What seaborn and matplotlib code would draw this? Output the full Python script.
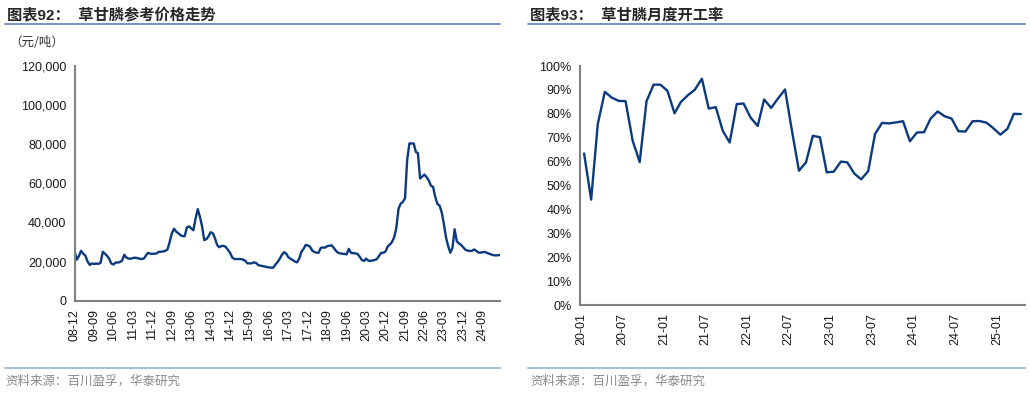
import pandas as pd
import numpy as np
import matplotlib
matplotlib.use("Agg")
import matplotlib.pyplot as plt
import matplotlib.ticker as mticker
from matplotlib.lines import Line2D
import seaborn as sns

# 草甘膦参考价格 (元/吨), 月度, 2008-12 起
price_start = "2008-12-01"
price_values = [
    25000, 21000, 23000, 25500, 24000, 23000, 20000, 18300, 19000, 18800,
    19000, 18800, 19400, 25000, 24000, 23000, 21500, 19000, 18500, 19500,
    19500, 19800, 20500, 23500, 22000, 21500, 21500, 21800, 22000, 21800,
    21500, 21300, 21500, 23000, 24500, 24000, 24000, 24000, 24200, 25000,
    25000, 25200, 25500, 26200, 30000, 34500, 36800, 35300, 34500, 33500,
    33000, 33000, 37500, 38000, 37000, 36000, 42000, 46800, 43000, 38000,
    31000, 31500, 33000, 35000, 34500, 32000, 28500, 27300, 28000, 28000,
    27500, 26000, 24500, 22000, 21300, 21300, 21300, 21300, 21000, 20500,
    19100, 19100, 19100, 19600, 19300, 18200, 17900, 17700, 17500, 17200,
    17000, 16900, 16900, 18500, 19800, 21500, 23500, 24800, 24000, 22200,
    21500, 20800, 20000, 19600, 21500, 25000, 26500, 28500, 28300, 27600,
    25600, 25000, 24500, 24500, 27000, 27200, 27100, 27900, 28100, 28300,
    27000, 25500, 24500, 24200, 24000, 23900, 23700, 26500, 24500, 24300,
    24200, 23900, 22500, 20800, 20300, 21500, 20500, 20300, 20600, 20800,
    21300, 23000, 24500, 24500, 25200, 27800, 28800, 30000, 32500, 37200,
    47000, 49600, 50500, 52500, 72000, 80400, 80400, 80400, 76000, 75500,
    62500, 63500, 64500, 63200, 61500, 58800, 58200, 53000, 49500, 48600,
    45000, 39500, 32500, 28000, 24500, 27000, 36500, 30300, 29300, 28500,
    27300, 26000, 25600, 25400, 25500, 26200, 25500, 24600, 24600, 24800,
    24900, 24400, 24000, 23600, 23200, 23200, 23200, 23400,
]
price_ticks = ["08-12", "09-09", "10-06", "11-03", "11-12", "12-09", "13-06",
               "14-03", "14-12", "15-09", "16-06", "17-03", "17-12", "18-09",
               "19-06", "20-03", "20-12", "21-09", "22-06", "23-03", "23-12",
               "24-09"]

# 草甘膦月度开工率, 2020-01 起
rate_start = "2020-01-01"
rate_values = [
    63.4, 44.1, 75.7, 89.2, 86.8, 85.4, 85.3, 68.8, 59.8, 85.3, 92.2, 92.2,
    89.6, 80.2, 85.0, 87.8, 90.1, 94.7, 82.2, 82.8, 72.8, 68.0, 84.1, 84.3,
    78.4, 74.9, 86.0, 82.5, 86.4, 90.2, 73.1, 56.2, 59.7, 70.8, 70.2, 55.5,
    55.8, 60.0, 59.7, 55.0, 52.6, 56.0, 71.6, 76.2, 76.0, 76.4, 76.9, 68.5,
    72.2, 72.3, 78.0, 81.0, 79.0, 78.0, 72.7, 72.6, 76.9, 77.0, 76.3, 74.0,
    71.3, 73.7, 80.0, 79.9,
]
rate_ticks = ["20-01", "20-07", "21-01", "21-07", "22-01", "22-07", "23-01",
              "23-07", "24-01", "24-07", "25-01"]

sns.set_style("white")
plt.rcParams["font.family"] = ["Liberation Sans", "Noto Sans CJK SC", "DejaVu Sans"]
cjk = ["Noto Sans CJK SC", "DejaVu Sans"]

line_color = "#0b3a7e"
axis_color = "#808080"

df_price = pd.DataFrame({
    "date": pd.date_range(price_start, periods=len(price_values), freq="MS"),
    "price": price_values,
})
df_rate = pd.DataFrame({
    "date": pd.date_range(rate_start, periods=len(rate_values), freq="MS") + pd.Timedelta(days=14),
    "rate": np.array(rate_values) / 100,
})

fig = plt.figure(figsize=(10.3, 3.93), dpi=100)
ax1 = fig.add_axes([0.0725, 0.2349, 0.4129, 0.5971])
ax2 = fig.add_axes([0.5631, 0.2239, 0.4320, 0.6081])

sns.lineplot(data=df_price, x="date", y="price", ax=ax1, color=line_color, linewidth=1.7)
sns.lineplot(data=df_rate, x="date", y="rate", ax=ax2, color=line_color, linewidth=1.7)

# 左图坐标轴
ax1.set_ylim(0, 120000)
ax1.set_yticks(range(0, 120001, 20000))
ax1.yaxis.set_major_formatter(mticker.FuncFormatter(lambda v, p: f"{int(v):,}"))
ax1.set_xlim(df_price["date"].iloc[0], df_price["date"].iloc[-1])
ax1.set_xticks(pd.to_datetime(["20" + t + "-01" for t in price_ticks]))
ax1.set_xticklabels(price_ticks, rotation=90)

# 右图坐标轴
ax2.set_ylim(0, 1)
ax2.set_yticks(np.arange(0, 1.01, 0.1))
ax2.yaxis.set_major_formatter(mticker.PercentFormatter(1.0, decimals=0))
ax2.set_xlim(pd.Timestamp("2019-12-28"), pd.Timestamp("2025-05-03"))
ax2.set_xticks(pd.to_datetime(["20" + t + "-01" for t in rate_ticks]))
ax2.set_xticklabels(rate_ticks, rotation=90)

for ax in (ax1, ax2):
    ax.set_xlabel("")
    ax.set_ylabel("")
    sns.despine(ax=ax)
    for s in ("left", "bottom"):
        ax.spines[s].set_color(axis_color)
        ax.spines[s].set_linewidth(1.5)
    ax.tick_params(axis="both", direction="out", length=4, width=1,
                   color=axis_color, labelsize=9, labelcolor="#1a1a1a", pad=2)

# 标题、分隔线、来源
fig.text(0.007, 0.963, "图表92：  草甘膦参考价格走势", fontsize=11, fontweight="bold",
         va="center", ha="left")
fig.text(0.5145, 0.963, "图表93：  草甘膦月度开工率", fontsize=11, fontweight="bold",
         va="center", ha="left")
fig.text(0.009, 0.893, "（元/吨）", fontsize=9, va="center", ha="left", family=cjk,
         color="#333333")

for x0, x1 in ((0.005, 0.4854), (0.5126, 0.9951)):
    fig.add_artist(Line2D([x0, x1], [0.939, 0.939], color="#5a84b8", linewidth=1.2))
    fig.add_artist(Line2D([x0, x1], [0.064, 0.064], color="#a9bfd8", linewidth=1.5))

fig.text(0.005, 0.030, "资料来源：百川盈孚，华泰研究", fontsize=9, color="#8a8a8a",
         va="center", ha="left", family=cjk)
fig.text(0.5145, 0.030, "资料来源：百川盈孚，华泰研究", fontsize=9, color="#8a8a8a",
         va="center", ha="left", family=cjk)

fig.savefig("out.png", dpi=100)
